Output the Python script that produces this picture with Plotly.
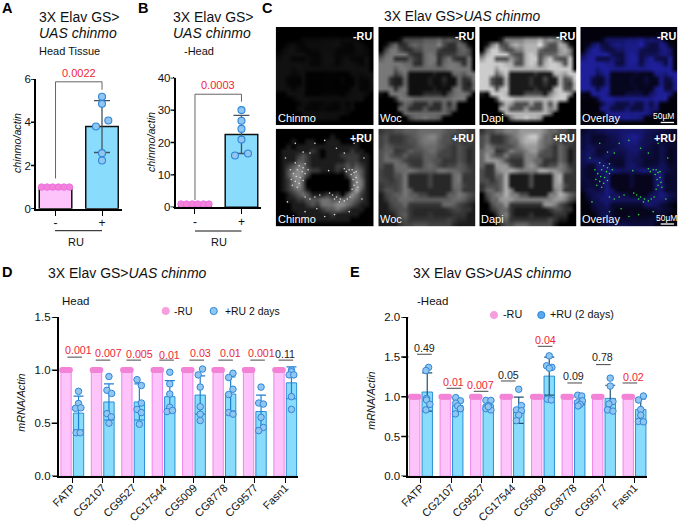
import plotly.graph_objects as go

W, H = 678, 522
FONT = "Liberation Sans"
PINK_FILL, PINK_EDGE = "#fcc4fa", "#ee6fe6"
BLUE_FILL, BLUE_EDGE = "#8adcfd", "#2a8fd2"
PT_PINK, PT_PINK_EDGE = "#f283d6", "#ee6fe6"
PT_BLUE, PT_BLUE_EDGE = "#90c6f0", "#2f86d8"
RED, DARK = "#ee2636", "#222222"

# ---------- panels A / B ----------
AB_CATS = ["-", "+"]
A_MEAN = [1.0, 3.8]
A_SD = [0.0, 1.2]
A_POINTS = [5.18, 4.85, 4.08, 3.8, 2.57, 2.23]
A_JITTER = [0, 0, 0.136, -0.13, 0, 0]
A_P = "0.0022"
B_MEAN = [1.0, 22.5]
B_SD = [0.0, 5.9]
B_POINTS = [30.0, 26.7, 24.2, 20.9, 16.0, 16.6]
B_JITTER = [0, 0, 0, 0, -0.14, 0.14]
B_P = "0.0003"
CONTROL_JITTER = [-0.3, -0.18, -0.06, 0.06, 0.18, 0.3]

# ---------- panels D / E ----------
GENES = ["FATP", "CG2107", "CG9527", "CG17544", "CG5009", "CG8778", "CG9577", "Fasn1"]
D_MEAN = [0.595, 0.70, 0.70, 0.75, 0.765, 0.775, 0.61, 0.88]
D_SD = [0.16, 0.17, 0.17, 0.15, 0.18, 0.16, 0.155, 0.15]
D_POINTS = [
    [0.80, 0.686, 0.64, 0.645, 0.41, 0.41],
    [0.94, 0.81, 0.78, 0.59, 0.56, 0.50],
    [0.91, 0.855, 0.69, 0.63, 0.60, 0.49],
    [0.98, 0.87, 0.775, 0.65, 0.61, 0.62],
    [1.01, 0.955, 0.84, 0.655, 0.585, 0.525],
    [0.97, 0.93, 0.82, 0.77, 0.60, 0.585],
    [0.84, 0.69, 0.68, 0.555, 0.46, 0.43],
    [1.0, 0.985, 0.955, 0.955, 0.75, 0.63],
]
D_JITTER = [
    [0, 0, -9, 7, -7, 5], [0, -6, 8, -6, 7, 0], [-7, 6, 6, -7, 6, 0], [0, 0, 0, 0, -8, 8],
    [7, -6, 0, 0, 0, 0], [7, -6, 7, -6, -6, 7], [0, -7, 7, 0, 7, -7], [0, 0, -7, 7, 0, 0],
]
D_P = ["0.001", "0.007", "0.005", "0.01", "0.03", "0.01", "0.001", "0.11"]
D_P_RED = [1, 1, 1, 1, 1, 1, 1, 0]
D_P_LINE = [1.122, 1.094, 1.094, 1.094, 1.094, 1.094, 1.094, 1.094]
D_P_LINE_X = [0.08, 1.01, 2.02, 3.10, 4.09, 5.04, 6.09, 7.02]
D_P_TEXT_X = [0.20, 1.19, 2.22, 3.18, 4.20, 5.21, 6.22, 6.99]
D_P_TEXT_Y = [1.187, 1.162, 1.149, 1.146, 1.159, 1.162, 1.159, 1.156]

E_MEAN = [1.06, 0.89, 0.90, 0.83, 1.26, 0.95, 0.98, 0.84]
E_SD = [0.24, 0.075, 0.05, 0.165, 0.24, 0.05, 0.165, 0.135]
E_POINTS = [
    [1.37, 1.33, 0.98, 0.96, 0.905, 0.835],
    [0.99, 0.95, 0.92, 0.885, 0.85, 0.785],
    [0.955, 0.955, 0.89, 0.85, 0.835, 0.875],
    [1.095, 0.89, 0.835, 0.825, 0.77, 0.70],
    [1.515, 1.39, 1.37, 1.36, 0.97, 0.96],
    [1.02, 1.01, 0.95, 0.925, 0.905, 0.885],
    [1.235, 1.135, 0.94, 0.91, 0.835, 0.82],
    [1.01, 0.96, 0.84, 0.77, 0.69, 0.685],
]
E_JITTER = [
    [4, -4, -2, -2, 8, -4], [-6, 8, -6, 0, 8, -7], [-7, 8, 0, -7, 8, 0], [0, 8, -7, 8, 0, -7],
    [0, -8, 8, 0, -6, 6], [-6, 6, 8, -7, 1, -5], [0, 0, 8, -4, -8, 8], [8, -7, 0, 0, -7, 8],
]
E_P = ["0.49", "0.01", "0.007", "0.05", "0.04", "0.09", "0.78", "0.02"]
E_P_RED = [0, 1, 1, 0, 1, 0, 0, 1]
E_P_LINE = [1.535, 1.107, 1.069, 1.199, 1.635, 1.174, 1.405, 1.174]
E_P_LINE_X = [0.11, 1.08, 1.97, 2.86, 4.07, 5.04, 5.98, 6.85]
E_P_TEXT_X = [0.11, 1.08, 1.96, 2.86, 4.09, 5.00, 5.95, 6.96]
E_P_TEXT_Y = [1.61, 1.19, 1.15, 1.27, 1.72, 1.26, 1.50, 1.25]

# ---------- panel C: coarse brightness maps ----------
BRAIN_MINUS = [
    "00000000000000000000", "00000000000000000000", "00001555566675655000",
    "01573367677795337610", "05885335577743336750", "37888843378734446650",
    "68833364378836843380", "88888773378737887380", "88868877777777888880",
    "88846811111211177688", "88322711112113117348", "88322711112112117327",
    "88837811111211178337", "10888711133331578860", "00038887777777788800",
    "00003763336337370000", "00007733363337560000", "00000777777777500000",
    "00000057787760000000", "00000000000000000000",
]
BRAIN_PLUS = [
    "23344555666665443322", "34222345678864423222", "34222344677754433232",
    "35433334566654324322", "45522354456643324312", "46433533355533324312",
    "46665322255442224312", "42266632256532335422", "32256676555577665432",
    "32244711113111167222", "33234711113111167222", "23334711113111166322",
    "24434751111111156222", "03455755331111557643", "02446665555555566532",
    "00344622222226653210", "00234421111111233220", "00024521112111122200",
    "00013422222222321100", "00002334443333310000",
]
CHINMO_PLUS = [
    "00000000000000000000", "00000000000100000000", "00010011001110001000",
    "00101111111111111000", "01111112101111121100", "01112321101112222110",
    "01113321111111222110", "01234421111122323210", "01345432211121334310",
    "01355420000000245310", "01245300000000035410", "01245300000000035410",
    "01234310000000036310", "00123431112120354210", "00112233344334443210",
    "00011123244455432110", "00011111123343211100", "00001111111211111000",
    "00000111111111100000", "00000000000000000000",
]
SPECKLE_X = [.20, .24, .28, .22, .27, .30, .18, .21, .25, .16, .20, .24, .17, .22, .28, .30, .33, .15,
             .78, .80, .77, .82, .79, .83, .80, .78, .84, .75, .72, .70, .82,
             .58, .62, .66, .70, .60, .65, .73, .76, .55, .45, .40, .35, .30,
             .54, .35, .62, .70, .28, .50, .10, .90, .12, .88, .30, .60, .50, .42, .75, .20, .40, .80]
SPECKLE_Y = [.35, .38, .40, .42, .44, .46, .46, .49, .50, .52, .54, .56, .58, .60, .53, .36, .42, .42,
             .42, .45, .47, .50, .52, .55, .58, .62, .60, .42, .44, .41, .44,
             .68, .70, .72, .74, .72, .75, .72, .70, .66, .68, .70, .72, .70,
             .43, .25, .20, .25, .24, .12, .30, .30, .75, .72, .85, .88, .90, .82, .85, .15, .15, .15]


def px(x):
    return x / W


def py(y):
    return 1 - y / H


def grid(rows):
    return [[int(c) for c in r] for r in rows]


fig = go.Figure()
annots, shapes, layout = [], [], {}
axis_n = [0]


def new_axes(x0, x1, ytop, ybot):
    axis_n[0] += 1
    n = axis_n[0]
    sfx = "" if n == 1 else str(n)
    return n, sfx, dict(domain=[px(x0), px(x1)], anchor="y" + sfx, automargin=False), dict(domain=[py(ybot), py(ytop)], anchor="x" + sfx, automargin=False)


def text(s, x, y, size=10, color="#111111", anchor="left", bold=False, angle=0):
    # annotations carry about 2px of padding; remove it so that x is where the glyphs start or end
    nudge = {"left": -2, "right": 2, "center": 0}[anchor]
    annots.append(dict(text=f"<b>{s}</b>" if bold else s, x=px(max(x + nudge, 0)), y=py(y), xref="paper", yref="paper",
                       showarrow=False, xanchor=anchor, yanchor="middle", align=anchor, textangle=angle,
                       font=dict(family=FONT, size=size, color=color)))


def hline(x0, x1, y, color="#111111", width=1.0):
    shapes.append(dict(type="line", xref="paper", yref="paper", x0=px(x0), x1=px(x1), y0=py(y), y1=py(y),
                       line=dict(color=color, width=width)))


def style_axes(sfx, box, xa, ya, xr, yr, yticks, ylabels, tickvals, ticktext, angle, tick_size, ylab_size, ylen,
               xpull, mark):
    common = dict(showgrid=False, zeroline=False, showline=True, linecolor="#000000", linewidth=1.6,
                  ticks="outside", tickcolor="#000000", tickwidth=1.4)
    xa.update(common, range=xr, tickmode="array", tickvals=tickvals, ticktext=ticktext, tickangle=angle, ticklen=5,
              ticklabelstandoff=xpull, tickfont=dict(family=FONT, size=tick_size, color="#111111"))
    ya.update(common, range=yr, tickmode="array", tickvals=yticks, ticktext=ylabels, ticklen=ylen,
              tickfont=dict(family=FONT, size=ylab_size, color="#111111"))
    layout["xaxis" + sfx] = xa
    layout["yaxis" + sfx] = ya
    # full-length y tick marks: the axis's own ticks stay short so that the labels sit close, as in the reference
    for v in yticks:
        shapes.append(dict(type="line", xref="paper", yref="y" + sfx, x0=px(box[0] - mark), x1=px(box[0]), y0=v, y1=v,
                           line=dict(color="#000000", width=1.4)))


def two_bar_panel(box, xr, yr, yticks, mean, sd, points, jitter, ytitle, title_x, title_y, p, br):
    n, sfx, xa, ya = new_axes(*box)
    xn, yn = "x" + sfx, "y" + sfx
    fig.add_trace(go.Bar(x=[0, 1], y=mean, width=0.7, xaxis=xn, yaxis=yn, showlegend=False,
                         marker=dict(color=[PINK_FILL, BLUE_FILL], line=dict(color="#111111", width=1.5)),
                         error_y=dict(type="data", array=sd, color="#45525c", thickness=1.3, width=8)))
    fig.add_trace(go.Scatter(x=CONTROL_JITTER, y=[1] * 6, mode="markers", xaxis=xn, yaxis=yn, showlegend=False,
                             marker=dict(size=6.5, color=PT_PINK, line=dict(color=PT_PINK_EDGE, width=1))))
    fig.add_trace(go.Scatter(x=[1 + j for j in jitter], y=points, mode="markers", xaxis=xn, yaxis=yn,
                             showlegend=False,
                             marker=dict(size=7, color=PT_BLUE, line=dict(color=PT_BLUE_EDGE, width=1.1))))
    fig.add_trace(go.Scatter(x=[0, 0, 1, 1], y=br, mode="lines", xaxis=xn, yaxis=yn, showlegend=False,
                             line=dict(color="#555555", width=0.9)))
    annots.append(dict(text=p, x=0.5, y=br[1], xref=xn, yref=yn, showarrow=False, yanchor="bottom", yshift=1,
                       font=dict(family=FONT, size=11, color=RED)))
    text(f"<i>{ytitle}</i>", title_x, title_y, 10.7, angle=-90, anchor="center")
    style_axes(sfx, box, xa, ya, xr, yr, yticks, [str(t) for t in yticks], [0, 1], AB_CATS, 0, 12, 11.5, 1, -3, 5)


two_bar_panel((36, 122, 79, 208.7), [-0.42, 1.43], [0, 6], [0, 2, 4, 6], A_MEAN, A_SD, A_POINTS, A_JITTER,
              "chinmo/actin", 17, 143, A_P, [1.4, 5.87, 5.87, 5.5])
two_bar_panel((175.6, 261, 77.7, 207.3), [-0.417, 1.42], [0, 40], [0, 10, 20, 30, 40], B_MEAN, B_SD, B_POINTS,
              B_JITTER, "chinmo/actin", 151, 142, B_P, [2.2, 34.9, 34.9, 32.6])


def gene_panel(box, xr, yr, yticks, ylabels, mean, sd, points, jitter, scale, err_color, p, red, line_y, line_x,
               text_x, text_y, half, title_x, title_y):
    n, sfx, xa, ya = new_axes(*box)
    xn, yn = "x" + sfx, "y" + sfx
    xs = list(range(len(GENES)))
    fig.add_trace(go.Bar(x=[i - 0.205 for i in xs], y=[1.0] * 8, width=0.34, xaxis=xn, yaxis=yn, showlegend=False,
                         marker=dict(color=PINK_FILL, line=dict(color=PINK_EDGE, width=0.8))))
    fig.add_trace(go.Bar(x=[i + 0.205 for i in xs], y=mean, width=0.34, xaxis=xn, yaxis=yn, showlegend=False,
                         marker=dict(color=BLUE_FILL, line=dict(color=BLUE_EDGE, width=1)),
                         error_y=dict(type="data", array=sd, color=err_color, thickness=1.2, width=5)))
    for i in xs:
        fig.add_trace(go.Scatter(x=[i - 0.205 + c * 0.42 for c in CONTROL_JITTER], y=[1] * 6, mode="markers",
                                 xaxis=xn, yaxis=yn, showlegend=False, cliponaxis=False,
                                 marker=dict(size=6, color=PT_PINK, line=dict(width=0))))
        fig.add_trace(go.Scatter(x=[i + 0.205 + j / scale for j in jitter[i]], y=points[i], mode="markers",
                                 xaxis=xn, yaxis=yn, showlegend=False, cliponaxis=False,
                                 marker=dict(size=6.5, color=PT_BLUE, line=dict(color=PT_BLUE_EDGE, width=1))))
        fig.add_trace(go.Scatter(x=[line_x[i] - half, line_x[i] + half], y=[line_y[i]] * 2, mode="lines",
                                 xaxis=xn, yaxis=yn, showlegend=False, line=dict(color="#333333", width=0.9)))
        annots.append(dict(text=p[i], x=text_x[i], y=text_y[i], xref=xn, yref=yn, showarrow=False, yanchor="middle",
                           font=dict(family=FONT, size=10.7, color=RED if red[i] else DARK)))
    text("<i>mRNA/Actin</i>", title_x, title_y, 10.7, angle=-90, anchor="center")
    style_axes(sfx, box, xa, ya, xr, yr, yticks, ylabels, xs, GENES, -45, 11, 11.5, 4, -6, 7)


gene_panel((58.7, 297.7, 317, 476.3), [-0.447, 7.41], [0, 1.5], [0, 0.5, 1, 1.5], ["0.0", "0.5", "1.0", "1.5"],
           D_MEAN, D_SD, D_POINTS, D_JITTER, 91.2, "#1f7fd0", D_P, D_P_RED, D_P_LINE, D_P_LINE_X, D_P_TEXT_X,
           D_P_TEXT_Y, 0.24, 21, 402.7)
gene_panel((408.3, 647.3, 317.3, 476.3), [-0.416, 7.42], [0, 2], [0, 0.5, 1, 1.5, 2], ["0.0", "0.5", "1.0", "1.5", "2.0"],
           E_MEAN, E_SD, E_POINTS, E_JITTER, 91.5, "#24506e", E_P, E_P_RED, E_P_LINE, E_P_LINE_X, E_P_TEXT_X,
           E_P_TEXT_Y, 0.24, 371, 400.7)

# ---------- panel C ----------
GRAY = [[0, "#000000"], [1, "#ffffff"]]
BLUE_SCALE = [[0, "#03020c"], [1, "#2c2ee0"]]
COLS = [(275.7, 373.7), (378.3, 475.7), (479.3, 576.7), (580.3, 677.5)]
ROWS = [(27, 125.3), (128.7, 226.3)]
CELLS = [
    [(BRAIN_MINUS, GRAY, 0, 120, None, "Chinmo"), (BRAIN_MINUS, GRAY, 0, 17, None, "Woc"),
     (BRAIN_MINUS, GRAY, 0, 10, None, "Dapi"), (BRAIN_MINUS, BLUE_SCALE, 0, 12, None, "Overlay")],
    [(CHINMO_PLUS, GRAY, 0, 9, "#d8d8d8", "Chinmo"), (BRAIN_PLUS, GRAY, -2, 17, None, "Woc"),
     (BRAIN_PLUS, GRAY, 0, 10, None, "Dapi"), (BRAIN_PLUS, BLUE_SCALE, 0, 13, "#2fe03a", "Overlay")],
]
for r, (y0, y1) in enumerate(ROWS):
    for c, (x0, x1) in enumerate(COLS):
        rows, cs, zmin, zmax, spk, label = CELLS[r][c]
        n, sfx, xa, ya = new_axes(x0, x1, y0, y1)
        xn, yn = "x" + sfx, "y" + sfx
        fig.add_trace(go.Heatmap(z=grid(rows), colorscale=cs, zmin=zmin, zmax=zmax, showscale=False,
                                 zsmooth="best", xaxis=xn, yaxis=yn, hoverinfo="skip"))
        if spk:
            fig.add_trace(go.Scatter(x=[v * 20 - 0.5 for v in SPECKLE_X], y=[v * 20 - 0.5 for v in SPECKLE_Y],
                                     mode="markers", xaxis=xn, yaxis=yn, showlegend=False,
                                     marker=dict(size=1.6, color=spk, line=dict(width=0))))
        xa.update(visible=False, range=[-0.5, 19.5])
        ya.update(visible=False, range=[19.5, -0.5])
        layout["xaxis" + sfx] = xa
        layout["yaxis" + sfx] = ya
        text("-RU" if r == 0 else "+RU", x1 - 2, y0 + 9, 10.8, "#ffffff", "right", True)
        text(label, x0 + 2, y1 - 7.5, 11, "#ffffff")
text("50µM", 663, 116, 8.5, "#ffffff", "center")
hline(660.7, 674, 122.5, "#ffffff", 1.3)
text("50µM", 666, 218, 8.5, "#ffffff", "center")
hline(660.7, 674, 224, "#ffffff", 1.3)

# ---------- free text ----------
for s, x, y in [("A", 0, 8), ("B", 138, 8), ("C", 262, 8), ("D", 0, 272), ("E", 350, 272)]:
    text(s, x, y, 14.5, "#000000", bold=True)
text("3X Elav GS>", 39.3, 17, 14)
text("<i>UAS chinmo</i>", 39.3, 33, 14)
text("Head Tissue", 39.3, 51, 11)
text("3X Elav GS>", 172.7, 17, 14)
text("<i>UAS chinmo</i>", 172.7, 33, 14)
text("-Head", 184, 51, 11)
text("3X Elav GS><i>UAS chinmo</i>", 384, 16.7, 13.8)
text("3X Elav GS><i>UAS chinmo</i>", 48, 273, 14)
text("3X Elav GS><i>UAS chinmo</i>", 413, 273, 14)
text("Head", 61.7, 301, 11.5)
text("-Head", 417, 301, 11.5)
hline(55, 102, 230.7, "#111111", 1)
text("RU", 76, 242, 11, anchor="center")
hline(195, 241.5, 231, "#111111", 1)
text("RU", 219, 242, 11, anchor="center")


def swatch(cx, cy, fill, edge, r=3.6):
    shapes.append(dict(type="circle", xref="paper", yref="paper", x0=px(cx - r), x1=px(cx + r), y0=py(cy + r),
                       y1=py(cy - r), fillcolor=fill, line=dict(color=edge, width=1)))


swatch(165.7, 311, "#f79ede", "#f79ede")
text("-RU", 174.3, 311, 10.4)
swatch(213.7, 311, PT_BLUE, PT_BLUE_EDGE)
text("+RU 2 days", 225, 311, 10.4)
swatch(494, 315, "#f79ede", "#f79ede")
text("-RU", 502.7, 314, 10.8)
swatch(541.3, 315, "#58a8ec", PT_BLUE_EDGE)
text("+RU (2 days)", 550, 314, 10.8)

fig.update_layout(width=W, height=H, margin=dict(l=0, r=0, t=0, b=0), paper_bgcolor="#ffffff",
                  plot_bgcolor="rgba(0,0,0,0)", barmode="overlay", annotations=annots, shapes=shapes,
                  showlegend=False, font=dict(family=FONT), **layout)
fig.write_html("out.html", post_script="document.body.style.margin='0';", config={"displayModeBar": False})
